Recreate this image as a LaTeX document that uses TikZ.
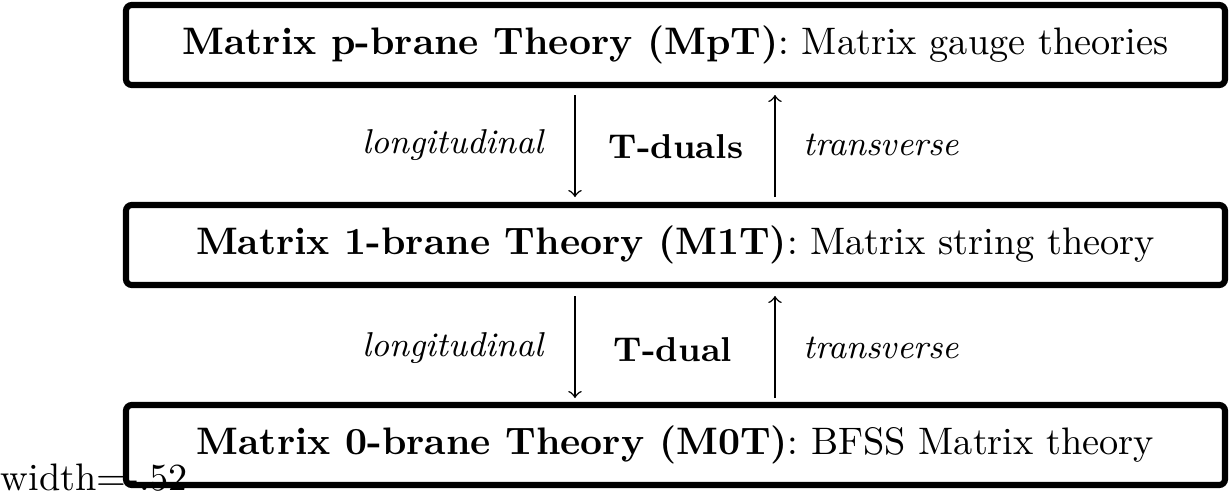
\documentclass[tikz,border=0pt]{standalone}
\begin{document}
\begin{tikzpicture}[x=0.26097pt,y=-0.26097pt,
  theorybox/.style={draw,line width=1.6pt,rounded corners=1.5pt,minimum width=1099*0.26097pt,minimum height=80*0.26097pt,inner sep=0pt},
  sidelabel/.style={font=\small\itshape},
  midlabel/.style={font=\small\bfseries},
  arr/.style={->,line width=0.4pt}]
\useasboundingbox (0,0) rectangle (1229,492);
\node[anchor=base west,inner sep=0pt] (w) at (0,490) {width=-.52};
\node[theorybox] (p) at (675.5,45) {\textbf{Matrix p-brane Theory (MpT)}: Matrix gauge theories};
\node[theorybox] (one) at (675.5,245) {\textbf{Matrix 1-brane Theory (M1T)}: Matrix string theory};
\node[theorybox] (zero) at (675.5,445) {\textbf{Matrix 0-brane Theory (M0T)}: BFSS Matrix theory};
\coordinate (a1) at (575,95); \coordinate (a2) at (575,197);
\coordinate (b1) at (775,197); \coordinate (b2) at (775,95);
\coordinate (c1) at (575,296); \coordinate (c2) at (575,398);
\coordinate (d1) at (775,398); \coordinate (d2) at (775,296);
\draw[arr] (a1) -- (a2);
\draw[arr] (b1) -- (b2);
\draw[arr] (c1) -- (c2);
\draw[arr] (d1) -- (d2);
\node[sidelabel,anchor=east] (l1) at (557,145) {longitudinal};
\node[sidelabel,anchor=west] (t1) at (790,145) {transverse};
\node[midlabel] (td1) at (676,147) {T-duals};
\node[sidelabel,anchor=east] (l2) at (557,348) {longitudinal};
\node[sidelabel,anchor=west] (t2) at (790,348) {transverse};
\node[midlabel] (td2) at (673,350) {T-dual};
\end{tikzpicture}
\end{document}
